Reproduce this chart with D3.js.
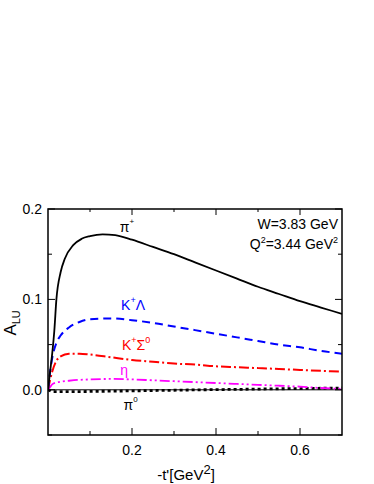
<!DOCTYPE html>
<html>
<head>
<meta charset="utf-8">
<script src="https://cdn.jsdelivr.net/npm/d3@7"></script>
<style>
  body { margin: 0; background: #fff; }
  svg { display: block; font-family: "Liberation Sans", Arial, sans-serif; }
</style>
</head>
<body>
<svg id="chart"></svg>
<script>
// -t' values and A_LU curves
const piPlusT = [0, 0.005, 0.01, 0.015, 0.02, 0.03, 0.04, 0.06, 0.08, 0.1, 0.13, 0.16, 0.2, 0.25, 0.3, 0.35, 0.4, 0.45, 0.5, 0.55, 0.6, 0.65, 0.7];
const piPlus  = [0, 0.02, 0.04, 0.065, 0.10, 0.13, 0.145, 0.16, 0.167, 0.17, 0.172, 0.171, 0.166, 0.158, 0.150, 0.141, 0.132, 0.123, 0.114, 0.106, 0.098, 0.091, 0.084];

const commonT = [0, 0.005, 0.01, 0.02, 0.03, 0.05, 0.075, 0.1, 0.15, 0.2, 0.25, 0.3, 0.35, 0.4, 0.45, 0.5, 0.55, 0.6, 0.65, 0.7];
const kLambda = [0, 0.02, 0.035, 0.052, 0.060, 0.069, 0.075, 0.078, 0.079, 0.077, 0.074, 0.070, 0.066, 0.062, 0.058, 0.054, 0.050, 0.047, 0.043, 0.040];
const kSigma  = [0, 0.011, 0.02, 0.032, 0.037, 0.040, 0.040, 0.039, 0.036, 0.033, 0.031, 0.029, 0.028, 0.026, 0.025, 0.024, 0.023, 0.022, 0.021, 0.020];
const eta     = [0, 0.003, 0.006, 0.008, 0.009, 0.010, 0.011, 0.0115, 0.012, 0.0115, 0.0105, 0.0095, 0.0085, 0.0075, 0.0065, 0.0055, 0.0045, 0.0035, 0.002, 0.001];
const piZero  = [0, -0.001, -0.002, -0.002, -0.002, -0.002, -0.002, -0.0018, -0.0015, -0.0012, -0.0008, -0.0005, -0.0001, 0.0002, 0.0005, 0.0008, 0.0011, 0.0014, 0.0017, 0.002];

const xMajor = [0.2, 0.4, 0.6];
const xMinor = [0.1, 0.3, 0.5];
const yMajor = [0.0, 0.1, 0.2];
const yMinor = [-0.05, 0.05, 0.15];

const width = 374, height = 484;
const margin = { top: 209, right: 32, bottom: 49, left: 48 };

const svg = d3.select("#chart").attr("width", width).attr("height", height);

const x = d3.scaleLinear().domain([0, 0.7]).range([margin.left, width - margin.right]);
const y = d3.scaleLinear().domain([-0.05, 0.2]).range([height - margin.bottom, margin.top]);

const x0 = x.range()[0], x1 = x.range()[1];
const y0 = y.range()[0], y1 = y.range()[1];

// zero line
svg.append("line")
  .attr("x1", x0).attr("x2", x1)
  .attr("y1", y(0)).attr("y2", y(0))
  .attr("stroke", "#000").attr("stroke-width", 1);

const line = d3.line()
  .x(d => x(d[0]))
  .y(d => y(d[1]))
  .curve(d3.curveMonotoneX);

const series = [
  { t: commonT, v: piZero, color: "#000", dash: "3,3", w: 2.8 },
  { t: commonT, v: eta, color: "#ff00ff", dash: "10,3,2,3,2,3", w: 1.8 },
  { t: commonT, v: kSigma, color: "#ff0000", dash: "10,3,2,3", w: 2 },
  { t: commonT, v: kLambda, color: "#0000ff", dash: "8,5", w: 2 },
  { t: piPlusT, v: piPlus, color: "#000", dash: null, w: 1.8 }
];

svg.append("defs").append("clipPath").attr("id", "clip")
  .append("rect").attr("x", x0).attr("y", y1).attr("width", x1 - x0).attr("height", y0 - y1);

svg.append("g").attr("clip-path", "url(#clip)")
  .selectAll("path.curve")
  .data(series)
  .join("path")
  .attr("class", "curve")
  .attr("fill", "none")
  .attr("stroke", d => d.color)
  .attr("stroke-width", d => d.w)
  .attr("stroke-dasharray", d => d.dash)
  .attr("d", d => line(d.t.map((t, i) => [t, d.v[i]])));

// frame
svg.append("rect")
  .attr("x", x0).attr("y", y1)
  .attr("width", x1 - x0).attr("height", y0 - y1)
  .attr("fill", "none").attr("stroke", "#000").attr("stroke-width", 1.5);

// ticks (inside, on all four sides)
const tickG = svg.append("g").attr("stroke", "#000").attr("stroke-width", 1);
const xTicks = xMajor.map(v => ({ v, len: 7 })).concat(xMinor.map(v => ({ v, len: 4 })));
const yTicks = yMajor.map(v => ({ v, len: 7 })).concat(yMinor.map(v => ({ v, len: 4 })));

tickG.selectAll("line.xb").data(xTicks).join("line")
  .attr("x1", d => x(d.v)).attr("x2", d => x(d.v))
  .attr("y1", y0).attr("y2", d => y0 - d.len);
tickG.selectAll("line.xt").data(xTicks).join("line")
  .attr("x1", d => x(d.v)).attr("x2", d => x(d.v))
  .attr("y1", y1).attr("y2", d => y1 + d.len - 1);
tickG.selectAll("line.yl").data(yTicks).join("line")
  .attr("y1", d => y(d.v)).attr("y2", d => y(d.v))
  .attr("x1", x0).attr("x2", d => x0 + d.len);
tickG.selectAll("line.yr").data(yTicks).join("line")
  .attr("y1", d => y(d.v)).attr("y2", d => y(d.v))
  .attr("x1", x1).attr("x2", d => x1 - d.len);

// tick labels
svg.selectAll("text.xl").data(xMajor).join("text")
  .attr("x", d => x(d)).attr("y", y0 + 20)
  .attr("text-anchor", "middle").attr("font-size", 14)
  .text(d => d.toFixed(1));
svg.selectAll("text.yl").data(yMajor).join("text")
  .attr("x", x0 - 6).attr("y", d => y(d) + 5)
  .attr("text-anchor", "end").attr("font-size", 14)
  .text(d => d.toFixed(1));

// axis titles
const xt = svg.append("text")
  .attr("x", 186).attr("y", 480)
  .attr("text-anchor", "middle").attr("font-size", 15);
xt.append("tspan").text("-t'[GeV");
xt.append("tspan").attr("dy", -6).attr("font-size", 13).text("2");
xt.append("tspan").attr("dy", 6).text("]");

const yt = svg.append("text")
  .attr("transform", `translate(16,${y(0.074)}) rotate(-90)`)
  .attr("text-anchor", "middle").attr("font-size", 17);
yt.append("tspan").text("A");
yt.append("tspan").attr("dy", 4).attr("font-size", 11).text("LU");

// kinematics
const kin = svg.append("g").attr("font-size", 14).attr("text-anchor", "end");
kin.append("text").attr("x", x1 - 4).attr("y", y1 + 20).text("W=3.83 GeV");
const q = kin.append("text").attr("x", x1 - 4).attr("y", y1 + 40);
q.append("tspan").text("Q");
q.append("tspan").attr("dy", -6).attr("font-size", 9).text("2");
q.append("tspan").attr("dy", 6).text("=3.44 GeV");
q.append("tspan").attr("dy", -6).attr("font-size", 9).text("2");

// curve labels
function label(tx, val, main, sup, color) {
  const t = svg.append("text")
    .attr("x", x(tx)).attr("y", y(val))
    .attr("font-size", 14).attr("fill", color);
  t.append("tspan").text(main);
  if (sup) t.append("tspan").attr("dy", -8).attr("font-size", 8).text(sup);
  return t;
}
label(0.171, 0.175, "π", "+", "#000");
const kl = svg.append("text").attr("x", x(0.174)).attr("y", y(0.0885)).attr("font-size", 14).attr("fill", "#0000ff");
kl.append("tspan").text("K");
kl.append("tspan").attr("dy", -7).attr("font-size", 9).text("+");
kl.append("tspan").attr("dy", 7).text("Λ");
const ks = svg.append("text").attr("x", x(0.176)).attr("y", y(0.0442)).attr("font-size", 14).attr("fill", "#ff0000");
ks.append("tspan").text("K");
ks.append("tspan").attr("dy", -7).attr("font-size", 9).text("+");
ks.append("tspan").attr("dy", 7).text("Σ");
ks.append("tspan").attr("dy", -7).attr("font-size", 9).text("0");
label(0.172, 0.0165, "η", null, "#ff00ff");
label(0.18, -0.0228, "π", "0", "#000");
</script>
</body>
</html>
